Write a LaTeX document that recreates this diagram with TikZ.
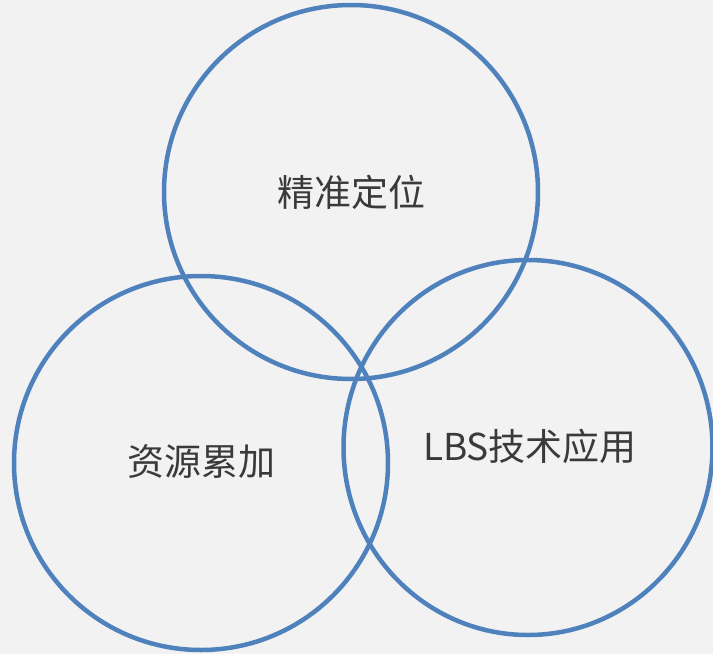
\documentclass[tikz,border=0pt]{standalone}
\usepackage{fontspec}
\newfontfamily\cjk{Noto Sans CJK SC}
\definecolor{bg}{HTML}{F2F2F2}
\definecolor{ring}{HTML}{4F81BD}
\definecolor{txt}{HTML}{3A3A3A}
\begin{document}
\begin{tikzpicture}[x=1pt,y=-1pt,
  ringstyle/.style={draw=ring,line width=4.5pt},
  label/.style={text=txt,font=\cjk\fontsize{37}{44}\selectfont,inner sep=0pt}]
\fill[bg] (0,0) rectangle (713,654);
\useasboundingbox (0,0) rectangle (713,654);
\draw[ringstyle] (351,192) circle[radius=187];
\draw[ringstyle] (201,463) circle[radius=187];
\draw[ringstyle] (528,447.5) ellipse[x radius=184.5,y radius=187.5];
\node[label] (a) at (351,192) {精准定位};
\node[label] (b) at (201,462) {资源累加};
\node[label] (c) at (530,446) {LBS技术应用};
\end{tikzpicture}
\end{document}
